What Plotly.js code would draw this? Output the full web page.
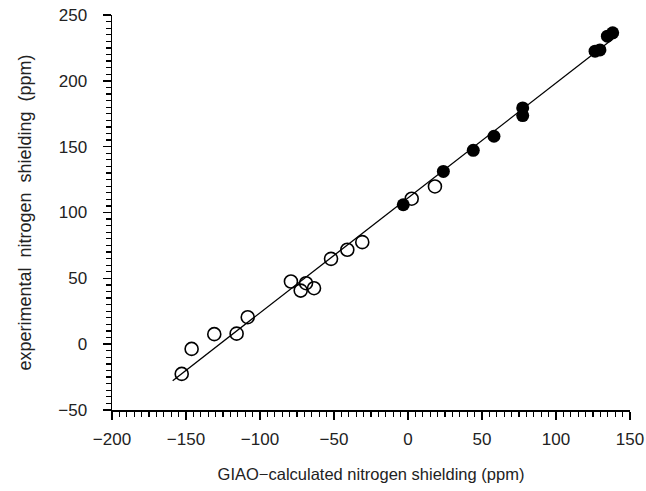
<!DOCTYPE html>
<html>
<head>
<meta charset="utf-8">
<script src="https://cdn.plot.ly/plotly-3.0.1.min.js"></script>
<style>html,body{margin:0;padding:0;background:#fff;}#chart{width:646px;height:491px;}</style>
</head>
<body>
<div id="chart"></div>
<script>
// Open circles (calculated, experimental)
const openX = [-152.9, -146.2, -130.9, -115.8, -108.3, -79.1, -68.9, -72.5, -63.5, -52.0, -41.0, -30.9, 2.5, 18.2];
const openY = [-22.6, -3.6, 7.6, 8.0, 20.5, 47.6, 46.3, 40.7, 42.5, 64.8, 71.7, 77.5, 110.5, 119.8];
// Filled circles
const fillX = [-3.2, 23.9, 44.1, 58.1, 77.5, 77.5, 126.4, 129.7, 134.7, 138.3];
const fillY = [105.9, 131.2, 147.2, 157.9, 179.4, 173.6, 222.5, 223.5, 233.9, 236.5];
// Regression line endpoints
const lineX = [-159, 142];
const lineY = [-27.7, 235];
// Tick labels
const xTickVals = [-200, -150, -100, -50, 0, 50, 100, 150];
const yTickVals = [-50, 0, 50, 100, 150, 200, 250];

const fam = 'Liberation Sans, Arial, sans-serif';
const tickFont = {family: fam, size: 17, color: '#222'};
const xTitleFont = {family: fam, size: 16.5, color: '#222'};
const yTitleFont = {family: fam, size: 18, color: '#222'};

const traces = [
  {x: lineX, y: lineY, mode: 'lines', line: {color: '#000', width: 1.3}, hoverinfo: 'skip'},
  {x: openX, y: openY, mode: 'markers', marker: {symbol: 'circle-open', size: 13, color: '#000', line: {width: 1.6, color: '#000'}}},
  {x: fillX, y: fillY, mode: 'markers', marker: {symbol: 'circle', size: 13, color: '#000'}}
];

const layout = {
  width: 646, height: 491,
  margin: {l: 112, r: 16, t: 15, b: 81},
  paper_bgcolor: '#fff', plot_bgcolor: '#fff',
  showlegend: false,
  font: tickFont,
  xaxis: {
    range: [-200, 150], tickvals: xTickVals, ticks: 'outside', ticklen: 8, tickwidth: 1.5, tickcolor: '#000',
    showline: true, linecolor: '#000', linewidth: 1.5, showgrid: false, zeroline: false,
    ticklabelstandoff: 5, tickfont: tickFont,
    minor: {dtick: 5, ticks: 'outside', ticklen: 5, tickwidth: 1.2, tickcolor: '#000', showgrid: false},
    title: {text: 'GIAO\u2212calculated nitrogen shielding (ppm)', font: xTitleFont, standoff: 20}
  },
  yaxis: {
    range: [-50, 250], tickvals: yTickVals, ticks: 'outside', ticklen: 8, tickwidth: 1.5, tickcolor: '#000',
    showline: true, linecolor: '#000', linewidth: 1.5, showgrid: false, zeroline: false,
    ticklabelstandoff: 12, tickfont: tickFont,
    minor: {dtick: 5, ticks: 'outside', ticklen: 5, tickwidth: 1.2, tickcolor: '#000', showgrid: false},
    title: {text: 'experimental \u00a0nitrogen \u00a0shielding \u00a0(ppm)', font: yTitleFont, standoff: 22}
  }
};

Plotly.newPlot('chart', traces, layout, {displayModeBar: false, staticPlot: true});
</script>
</body>
</html>
